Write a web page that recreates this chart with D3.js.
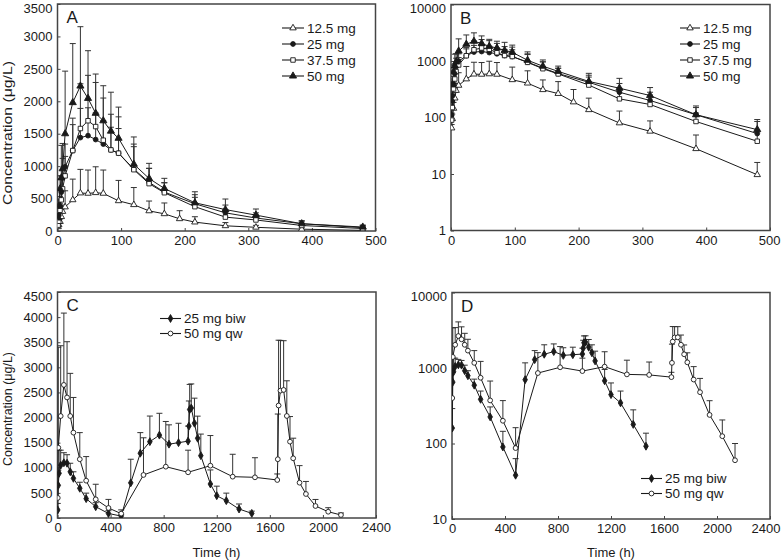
<!DOCTYPE html>
<html><head><meta charset="utf-8">
<script src="https://cdn.jsdelivr.net/npm/d3@7"></script>
<style>body{margin:0;background:#fff}svg{display:block;font-family:"Liberation Sans",Arial,sans-serif}</style>
</head><body><svg id="c" width="781" height="560"></svg>
<script>
// ---------- Panels A & B : single dose ----------
const timeSingle = [1,2,4,6,8,12,24,36,48,60,72,84,96,120,144,168,216,264,312,384,480];
const time125 = [1,2,4,6,8,12,24,36,48,60,72,96,120,144,168,192,216,264,312,384,480];
const mean125 = [65,95,145,220,300,370,480,585,580,590,580,465,405,310,265,188,137,80,57,28,9.7];
const sd125   = [10,20,40,60,100,250,320,365,360,400,360,315,265,152,167,125,83,50,30,21,6.3];
const mean25  = [110,240,380,600,820,990,1240,1440,1470,1410,1340,1250,1200,955,750,600,420,280,200,112,52];
const sd25    = [40,80,150,250,300,350,400,450,430,410,360,350,380,345,216,144,140,120,80,38,33];
const mean375 = [90,150,320,480,650,850,1240,1580,1700,1610,1400,1250,1200,945,730,590,375,214,170,85,38];
const sd375   = [30,60,100,150,200,300,500,690,700,680,650,550,560,395,236,154,144,116,80,35,22];
const mean50  = [200,380,650,820,960,1500,1980,2235,2045,1815,1700,1540,1430,1030,810,656,435,330,245,112,61];
const sd50    = [50,100,200,500,390,965,910,915,735,605,540,600,480,420,233,156,170,163,94,48,31];
const singleLabels = ["12.5 mg","25 mg","37.5 mg","50 mg"];

// ---------- Panels C & D : multiple dose ----------
const timeBiw = [2,6,12,24,48,72,96,120,168,216,288,384,480,552,624,696,768,840,912,984,990,996,1008,1032,1056,1080,1152,1200,1272,1368,1464];
const meanBiw = [160,650,890,1050,1100,1090,920,790,592,385,225,90,38,700,1290,1520,1650,1470,1500,1530,1830,2160,2190,1886,1588,1241,677,444,345,179,92];
const sdBiw   = [130,300,460,300,200,170,170,130,120,110,80,55,25,470,410,510,435,385,386,300,500,500,480,500,440,430,280,190,150,100,45];
const timeQw  = [2,6,24,48,72,96,120,168,216,288,384,480,648,816,984,1152,1320,1488,1656,1660,1666,1680,1704,1728,1752,1776,1824,1872,1944,2040,2136];
const meanQw  = [400,1400,2030,2650,2400,2030,1700,1170,743,372,200,87,857,1022,910,1042,823,810,757,1170,2240,2536,2550,2032,1520,1189,703,478,239,125,60];
const sdQw    = [600,2000,1400,1430,1110,850,700,530,480,300,170,75,740,900,440,600,446,390,120,900,1300,1000,980,700,500,400,340,250,130,80,40];
const multiLabels = ["25 mg biw","50 mg qw"];

const ticksAB = [0,100,200,300,400,500];
const ticksCD = [0,400,800,1200,1600,2000,2400];
const yTicksA = [0,500,1000,1500,2000,2500,3000,3500];
const yTicksB = [1,10,100,1000,10000];
const yTicksC = [0,500,1000,1500,2000,2500,3000,3500,4000,4500];
const yTicksD = [10,100,1000,10000];

const svg = d3.select("#c");
const INK = "#1a1a1a";

function mk(t, m, s){ return t.map((d,i)=>({t:d, m:m[i], s:s[i]})); }
const singleSeries = [
  {name:singleLabels[0], data:mk(time125,mean125,sd125), sym:d3.symbolTriangle, size:18, fill:false},
  {name:singleLabels[1], data:mk(timeSingle,mean25,sd25), sym:d3.symbolCircle, size:18, fill:true},
  {name:singleLabels[2], data:mk(timeSingle,mean375,sd375), sym:d3.symbolSquare, size:20, fill:false},
  {name:singleLabels[3], data:mk(timeSingle,mean50,sd50), sym:d3.symbolTriangle, size:22, fill:true}
];
const multiSeries = [
  {name:multiLabels[0], data:mk(timeBiw,meanBiw,sdBiw), sym:d3.symbolDiamond, size:18, fill:true},
  {name:multiLabels[1], data:mk(timeQw,meanQw,sdQw), sym:d3.symbolCircle, size:18, fill:false}
];

function panel(o){
  const g = svg.append("g");
  const x = d3.scaleLinear().domain(o.xd).range([o.x0,o.x1]);
  const y = (o.log ? d3.scaleLog() : d3.scaleLinear()).domain(o.yd).range([o.y1,o.y0]);
  const clipId = "clip"+o.letter;
  svg.append("clipPath").attr("id",clipId).append("rect")
    .attr("x",o.x0).attr("y",o.y0-1).attr("width",o.x1-o.x0).attr("height",o.y1-o.y0+1);
  const xa = d3.axisBottom(x).tickValues(o.xt).tickSize(-3).tickPadding(6).tickFormat(d3.format("d"));
  const ya = d3.axisLeft(y).tickValues(o.yt).tickSize(-3).tickPadding(5).tickFormat(d=>String(d));
  const gx = g.append("g").attr("transform",`translate(0,${o.y1})`).call(xa);
  const gy = g.append("g").attr("transform",`translate(${o.x0},0)`).call(ya);
  [gx,gy].forEach(a=>{
    a.select(".domain").remove();
    a.selectAll("line").attr("stroke","#444").attr("stroke-width",1);
    a.selectAll("text").attr("font-size",13).attr("fill",INK).attr("font-family",'"Liberation Sans",Arial,sans-serif');
  });
  gx.selectAll("text").attr("dy","0.72em").attr("y",5);
  if (o.x1 > 760) {
    gx.selectAll(".tick").filter(d=>d===o.xt[o.xt.length-1]).select("text")
      .attr("text-anchor","end").attr("x",781 - o.x1 - 1);
  }
  gy.selectAll(".tick").filter(d=>d===o.yt[o.yt.length-1]).select("text").attr("dy","0.62em");
  g.append("rect").attr("x",o.x0).attr("y",o.y0).attr("width",o.x1-o.x0).attr("height",o.y1-o.y0)
    .attr("fill","none").attr("stroke","#444").attr("stroke-width",1.5);
  const pg = g.append("g").attr("clip-path",`url(#${clipId})`);
  const yv = v => y(o.log ? Math.max(v, o.yd[0]) : v);
  o.series.forEach(s=>{
    const eb = pg.append("g").attr("stroke","#333").attr("stroke-width",1);
    s.data.forEach(d=>{
      const xx = x(d.t), ya0 = yv(d.m), yb = yv(d.m + d.s);
      eb.append("line").attr("x1",xx).attr("x2",xx).attr("y1",ya0).attr("y2",yb);
      eb.append("line").attr("x1",xx-3).attr("x2",xx+3).attr("y1",yb).attr("y2",yb);
    });
  });
  const line = d3.line().x(d=>x(d.t)).y(d=>yv(d.m));
  o.series.forEach(s=>{
    pg.append("path").datum(s.data).attr("d",line).attr("fill","none")
      .attr("stroke",INK).attr("stroke-width",1);
  });
  o.series.forEach(s=>{
    pg.selectAll(null).data(s.data).join("path")
      .attr("d",d3.symbol(s.sym,s.size))
      .attr("transform",d=>`translate(${x(d.t)},${yv(d.m)})`)
      .attr("fill",s.fill?INK:"#fff").attr("stroke",INK).attr("stroke-width",0.9);
  });
  g.append("text").attr("x",o.x0+9).attr("y",o.y0+19).attr("font-size",17).attr("fill",INK).text(o.letter);
  const lg = g.append("g");
  o.series.forEach((s,i)=>{
    const yy = o.leg.y + i*o.leg.dy;
    lg.append("line").attr("x1",o.leg.x).attr("x2",o.leg.x+o.leg.w).attr("y1",yy).attr("y2",yy)
      .attr("stroke",INK).attr("stroke-width",1.1);
    lg.append("path").attr("d",d3.symbol(s.sym,s.size)).attr("transform",`translate(${o.leg.x+o.leg.w/2},${yy})`)
      .attr("fill",s.fill?INK:"#fff").attr("stroke",INK).attr("stroke-width",0.9);
    lg.append("text").attr("x",o.leg.x+o.leg.w+3).attr("y",yy).attr("dy","0.35em")
      .attr("font-size",13.5).attr("fill",INK).text(s.name);
  });
  return {x,y};
}

panel({letter:"A", x0:57.5, x1:375.5, y0:4, y1:231, xd:[0,500], yd:[0,3500], xt:ticksAB, yt:yTicksA,
  log:false, series:singleSeries, leg:{x:282, w:22, y:28, dy:16}});
panel({letter:"B", x0:451, x1:770, y0:4.5, y1:230.5, xd:[0,500], yd:[1,10000], xt:ticksAB, yt:yTicksB,
  log:true, series:singleSeries, leg:{x:680, w:20, y:28, dy:16}});
panel({letter:"C", x0:57.5, x1:376, y0:292, y1:518, xd:[0,2400], yd:[0,4500], xt:ticksCD, yt:yTicksC,
  log:false, series:multiSeries, leg:{x:160, w:21, y:318.5, dy:15}});
panel({letter:"D", x0:452, x1:770, y0:292.5, y1:519, xd:[0,2400], yd:[10,10000], xt:ticksCD, yt:yTicksD,
  log:true, series:multiSeries, leg:{x:641, w:21, y:478.5, dy:15}});

function ylab(cx, cy, len){
  svg.append("text").attr("transform",`translate(${cx},${cy}) rotate(-90)`).attr("text-anchor","middle")
    .attr("font-size",13).attr("fill",INK).attr("textLength",len).attr("lengthAdjust","spacingAndGlyphs")
    .text("Concentration (μg/L)");
}
ylab(12, 133, 144);
ylab(12, 409, 114);
svg.append("text").attr("x",216.5).attr("y",557).attr("text-anchor","middle").attr("font-size",13).attr("fill",INK).text("Time (h)");
svg.append("text").attr("x",611).attr("y",557).attr("text-anchor","middle").attr("font-size",13).attr("fill",INK).text("Time (h)");
</script></body></html>
